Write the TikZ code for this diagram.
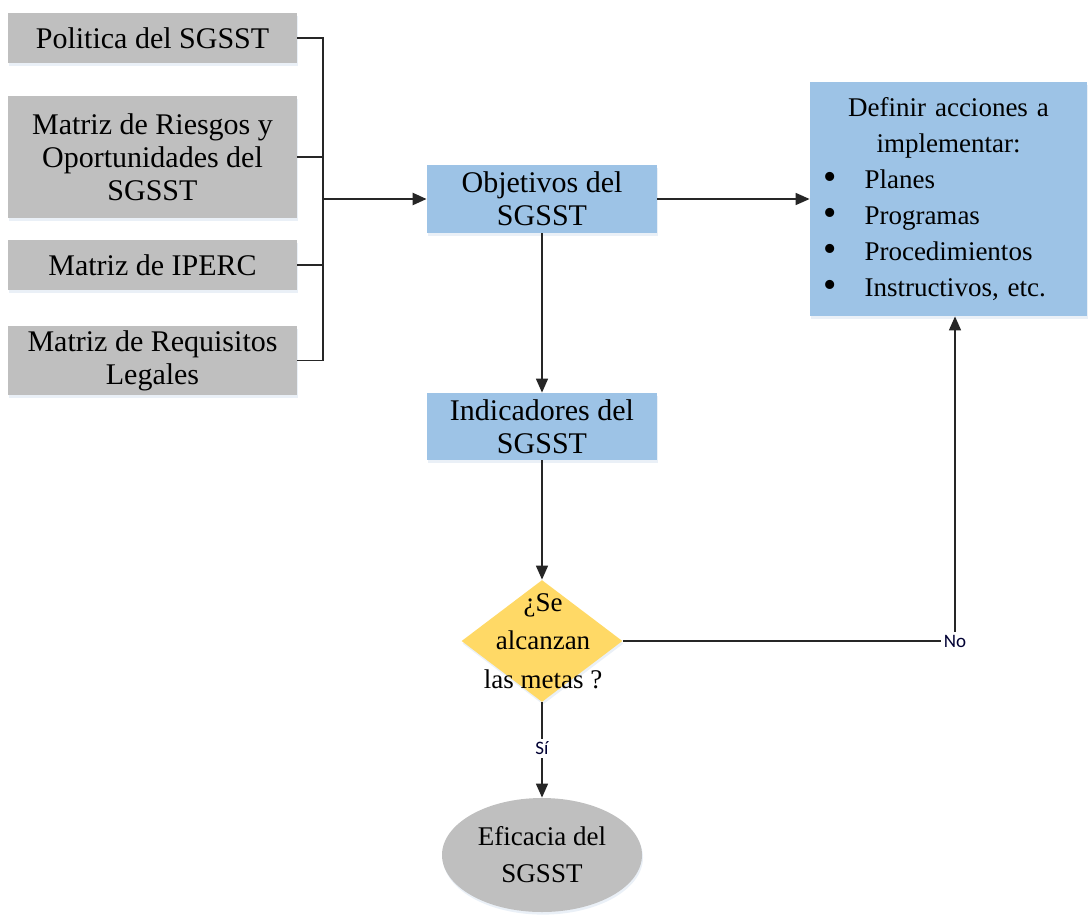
\documentclass[tikz,border=0pt]{standalone}
\usepackage{fontspec}
\setmainfont{Liberation Serif}
\newfontfamily\lblfont{Carlito}
\usetikzlibrary{shapes.geometric,arrows.meta,shadows}
\definecolor{boxgray}{HTML}{BFBFBF}
\definecolor{boxblue}{HTML}{9DC3E6}
\definecolor{diayellow}{HTML}{FFD966}
\definecolor{shadowc}{HTML}{DCE6F2}
\tikzset{
  shad/.style={drop shadow={shadow xshift=0.5pt, shadow yshift=-1.3pt, fill=shadowc, opacity=0.6}},
  base/.style={inner sep=2pt, align=center, font=\fontsize{15}{16.5}\selectfont, shad},
  graybox/.style={base, rectangle, fill=boxgray, minimum width=144.5pt},
  bluebox/.style={base, rectangle, fill=boxblue},
  conn/.style={draw=black!85, line width=0.8pt},
  arr/.style={conn, -{Triangle[length=7pt,width=6pt]}},
  lbl/.style={fill=white, inner sep=1.5pt, font=\lblfont\fontsize{9.5}{10}\selectfont, text=black!80!blue},
}
\newcommand{\bul}{\makebox[21pt][l]{\hspace*{0.5pt}\raisebox{-0.5pt}{\fontsize{19}{18}\selectfont •}}}
\begin{document}
\begin{tikzpicture}[x=0.5pt,y=-0.5pt]
\useasboundingbox (0,0) rectangle (1092,916);
% left inputs
\node[graybox, minimum height=25pt] (pol) at (152.5,38) {Politica del SGSST};
\node[graybox, minimum height=61pt] (rie) at (152.5,157) {Matriz de Riesgos y\\Oportunidades del\\SGSST};
\node[graybox, minimum height=25pt] (ipe) at (152.5,265) {Matriz de IPERC};
\node[graybox, minimum height=34.5pt] (req) at (152.5,360.5) {Matriz de Requisitos\\Legales};
% center column
\node[bluebox, minimum width=115pt, minimum height=34pt] (obj) at (542,199) {Objetivos del\\SGSST};
\node[bluebox, minimum width=115pt, minimum height=33.5pt] (ind) at (542,426.5) {Indicadores del\\SGSST};
\node[diamond, fill=diayellow, minimum width=80.5pt, minimum height=61pt, inner sep=0pt, shad] (dia) at (542,641) {};
\node[align=center, inner sep=0pt, font=\fontsize{13.5}{19.2}\selectfont] (diat) at (543,641) {¿Se\\alcanzan\\las metas ?};
\node[ellipse, fill=boxgray, minimum width=100pt, minimum height=57pt, inner sep=0pt, align=center,
  font=\fontsize{13.5}{18.5}\selectfont, shad] (eff) at (542,855) {Eficacia del\\SGSST};
% right box
\node[bluebox, minimum width=138.5pt, minimum height=117pt, text width=126pt, align=left,
  font=\fontsize{13.5}{18}\selectfont] (def) at (948.5,199)
  {\centering Definir acciones a\\implementar:\par
   \raggedright
   \bul Planes\\
   \bul Programas\\
   \bul Procedimientos\\
   \bul Instructivos, etc.\par};
% bus
\coordinate (b1) at (323,38);
\coordinate (b4) at (323,360.5);
\coordinate (bm) at (323,199);
\draw[conn] (pol.east) -- (b1) -- (b4) -- (req.east);
\draw[conn] (rie.east) -- (rie.east -| b1);
\draw[conn] (ipe.east) -- (ipe.east -| b1);
\draw[arr, line width=1.2pt] (bm) -- (obj.west);
% flow
\draw[arr] (obj.east) -- (def.west);
\draw[arr] (obj.south) -- (ind.north);
\draw[arr] (ind.south) -- (dia.north);
\draw[arr] (dia.south) -- node[lbl, pos=0.48] {Sí} (eff.north);
\coordinate (nc) at (955,641);
\draw[arr] (dia.east) -- (nc) -- (nc |- def.south);
\node[lbl] (nolbl) at (nc) {No};
\end{tikzpicture}
\end{document}
